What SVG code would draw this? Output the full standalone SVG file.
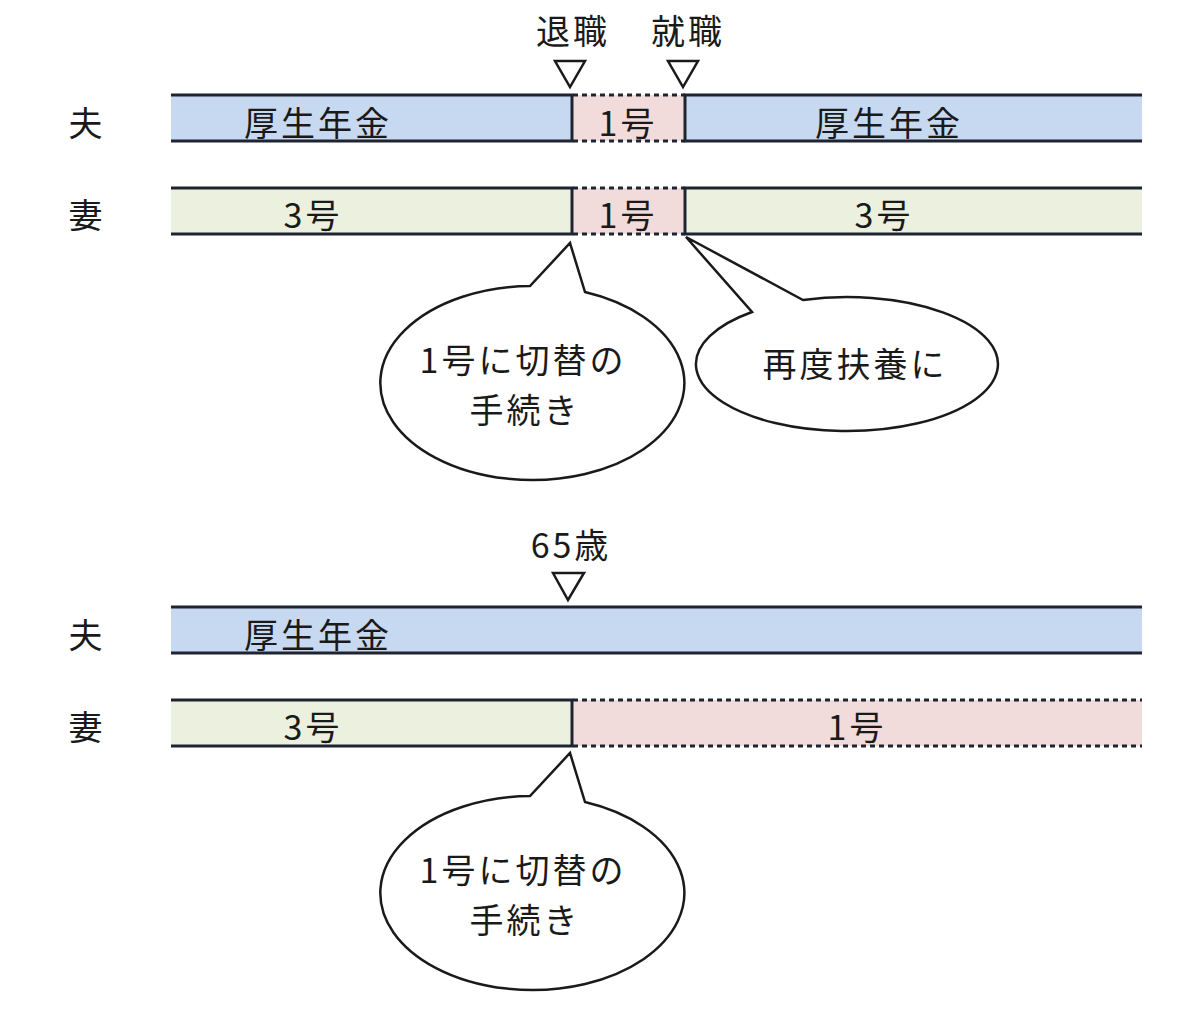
<svg xmlns="http://www.w3.org/2000/svg" width="1200" height="1029" viewBox="0 0 1200 1029">
<style>
text{font-family:"Noto Sans CJK JP","Noto Sans",sans-serif;font-size:34px;letter-spacing:3px;fill:#1a1a1a;text-anchor:middle;dominant-baseline:central}
.blue{fill:#c6d9f0}
.green{fill:#ebf1de}
.pink{fill:#f2dcdb}
.ln{stroke:#1e2430;stroke-width:3;fill:none}
.dash{stroke:#1e2430;stroke-width:3;fill:none;stroke-dasharray:5 4}
.tri{fill:#fff;stroke:#1a1a1a;stroke-width:2.5;stroke-linejoin:miter}
.bubble{fill:#fff;stroke:#1a1a1a;stroke-width:2.5;stroke-linejoin:miter}
</style>
<rect width="1200" height="1029" fill="#fff"/>

<g id="labels">
<text x="87" y="121">夫</text>
<text x="87" y="213">妻</text>
<text x="87" y="633">夫</text>
<text x="87" y="725">妻</text>
</g>

<g id="markers">
<text x="573" y="29">退職</text>
<text x="688" y="29">就職</text>
<polygon class="tri" points="555,61 585,61 570,87"/>
<polygon class="tri" points="668,61 698,61 683,87"/>
<text x="571" y="543">65歳</text>
<polygon class="tri" points="553,573 584,573 568,600"/>
</g>

<g id="top-husband">
<rect class="blue" x="171" y="95" width="401" height="46"/>
<rect class="pink" x="572" y="95" width="113" height="46"/>
<rect class="blue" x="685" y="95" width="457" height="46"/>
<path class="ln" d="M171,95H572V141H171"/>
<path class="dash" d="M573,95H685M573,141H685"/>
<path class="ln" d="M1142,95H685V141H1142"/>
<text x="318" y="121">厚生年金</text>
<text x="628" y="121">1号</text>
<text x="889" y="121">厚生年金</text>
</g>

<g id="top-wife">
<rect class="green" x="171" y="188" width="401" height="46"/>
<rect class="pink" x="572" y="188" width="113" height="46"/>
<rect class="green" x="685" y="188" width="457" height="46"/>
<path class="ln" d="M171,188H572V234H171"/>
<path class="dash" d="M573,188H685M573,234H685"/>
<path class="ln" d="M1142,188H685V234H1142"/>
<text x="313" y="213">3号</text>
<text x="628" y="213">1号</text>
<text x="884" y="213">3号</text>
</g>

<g id="callout-1">
<path class="bubble" d="M530,286 A152,97 0 1,0 585,292 L570,243 Z"/>
<text x="523" y="358">1号に切替の</text>
<text x="525" y="408">手続き</text>
</g>

<g id="callout-2">
<path class="bubble" d="M752,312 A151,67 0 1,0 803,300 L686,237 Z"/>
<text x="855" y="362">再度扶養に</text>
</g>

<g id="bottom-husband">
<rect class="blue" x="171" y="607" width="971" height="46"/>
<path class="ln" d="M171,607H1142M171,653H1142"/>
<text x="318" y="633">厚生年金</text>
</g>

<g id="bottom-wife">
<rect class="green" x="171" y="700" width="401" height="46"/>
<rect class="pink" x="572" y="700" width="570" height="46"/>
<path class="ln" d="M171,700H572V746H171"/>
<path class="dash" d="M573,700H1142M573,746H1142"/>
<text x="313" y="725">3号</text>
<text x="857" y="725">1号</text>
</g>

<g id="callout-3">
<path class="bubble" d="M530,796 A152,97 0 1,0 585,802 L570,753 Z"/>
<text x="523" y="868">1号に切替の</text>
<text x="525" y="918">手続き</text>
</g>
</svg>
